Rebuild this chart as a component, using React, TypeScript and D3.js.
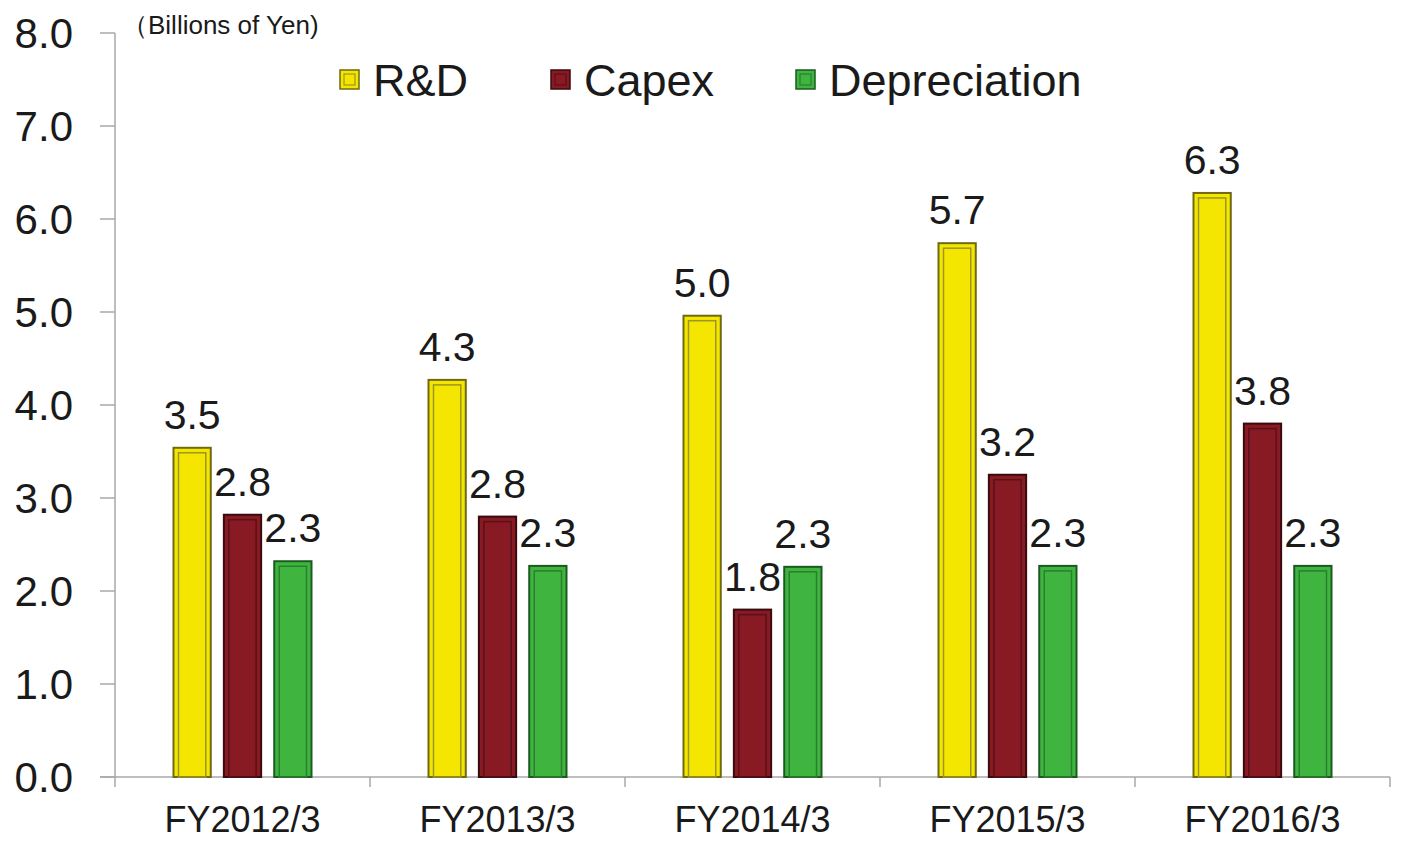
import React from "react";
import * as d3 from "d3";

const categories = ["FY2012/3", "FY2013/3", "FY2014/3", "FY2015/3", "FY2016/3"];
const seriesNames = ["R&D", "Capex", "Depreciation"];
const rdValues = [3.54, 4.27, 4.96, 5.74, 6.28];
const capexValues = [2.82, 2.8, 1.8, 3.25, 3.8];
const deprValues = [2.32, 2.27, 2.26, 2.27, 2.27];
const rdLabels = ["3.5", "4.3", "5.0", "5.7", "6.3"];
const capexLabels = ["2.8", "2.8", "1.8", "3.2", "3.8"];
const deprLabels = ["2.3", "2.3", "2.3", "2.3", "2.3"];
const yTicks = [0, 1, 2, 3, 4, 5, 6, 7, 8];

const styles = [
  { fill: "#f4e600", stroke: "#6f6a12", inner: "#9c9620" },
  { fill: "#881a24", stroke: "#3a0a0e", inner: "#5a1018" },
  { fill: "#3fb53f", stroke: "#1c5a22", inner: "#2a7f2e" },
];

export default function App() {
  const W = 1403, H = 841;
  const left = 115, right = 1390, top = 33, bottom = 777;
  const x = d3.scaleBand().domain(categories).range([left, right]).paddingInner(0).paddingOuter(0);
  const y = d3.scaleLinear().domain([0, 8]).range([bottom, top]);
  const inner = d3.scaleBand().domain(seriesNames).range([0, 138]).paddingInner(0.26).paddingOuter(0);
  const series = [
    { name: seriesNames[0], values: rdValues, labels: rdLabels },
    { name: seriesNames[1], values: capexValues, labels: capexLabels },
    { name: seriesNames[2], values: deprValues, labels: deprLabels },
  ];
  const font = "'Liberation Sans', Arial, sans-serif";
  const bw = inner.bandwidth();
  const legendX = [340, 551, 796];

  return (
    <svg width={W} height={H} style={{ position: "absolute", left: 0, top: 0, background: "#fff" }} fontFamily={font}>
      <rect x={0} y={0} width={W} height={H} fill="#fff" />
      {/* y axis */}
      <line x1={left} x2={left} y1={top} y2={bottom} stroke="#a8a8a8" strokeWidth={1.5} />
      {yTicks.map((t) => (
        <g key={t}>
          <line x1={100} x2={left} y1={y(t)} y2={y(t)} stroke="#a8a8a8" strokeWidth={1.5} />
          <text x={73} y={y(t)} dy="0.36em" textAnchor="end" fontSize={42} fill="#1a1a1a">
            {t.toFixed(1)}
          </text>
        </g>
      ))}
      {/* x axis */}
      <line x1={100} x2={right} y1={bottom} y2={bottom} stroke="#a8a8a8" strokeWidth={1.5} />
      {categories.map((c, i) => (
        <g key={c}>
          <line x1={x(c)!} x2={x(c)!} y1={bottom} y2={bottom + 10} stroke="#a8a8a8" strokeWidth={1.5} />
          {i === categories.length - 1 && (
            <line x1={x(c)! + x.bandwidth()} x2={x(c)! + x.bandwidth()} y1={bottom} y2={bottom + 10} stroke="#a8a8a8" strokeWidth={1.5} />
          )}
          <text x={x(c)! + x.bandwidth() / 2} y={832} textAnchor="middle" fontSize={36} fill="#1a1a1a">
            {c}
          </text>
        </g>
      ))}
      {/* bars */}
      {categories.map((c, i) => {
        const gx = x(c)! + x.bandwidth() / 2 - 69;
        return (
          <g key={c}>
            {series.map((s, si) => {
              const bx = gx + inner(s.name)!;
              const by = y(s.values[i]);
              const bh = bottom - by;
              const st = styles[si];
              return (
                <g key={s.name}>
                  <rect x={bx} y={by} width={bw} height={bh} fill={st.fill} stroke={st.stroke} strokeWidth={2} />
                  <rect x={bx + 5} y={by + 5} width={bw - 10} height={Math.max(0, bh - 5)} fill="none" stroke={st.inner} strokeWidth={1.5} />
                  <text x={bx + bw / 2} y={by - 19} textAnchor="middle" fontSize={41} fill="#1a1a1a">
                    {s.labels[i]}
                  </text>
                </g>
              );
            })}
          </g>
        );
      })}
      {/* unit label */}
      <text x={122} y={34} fontSize={26} fill="#1a1a1a">（Billions of Yen)</text>
      {/* legend */}
      {seriesNames.map((n, si) => (
        <g key={n}>
          <rect x={legendX[si]} y={70} width={19} height={19} fill={styles[si].fill} stroke={styles[si].stroke} strokeWidth={1.5} />
          <rect x={legendX[si] + 4} y={74} width={11} height={11} fill="none" stroke={styles[si].inner} strokeWidth={1.2} />
          <text x={legendX[si] + 33} y={80} dy="0.36em" fontSize={45} fill="#1a1a1a">
            {n}
          </text>
        </g>
      ))}
    </svg>
  );
}
